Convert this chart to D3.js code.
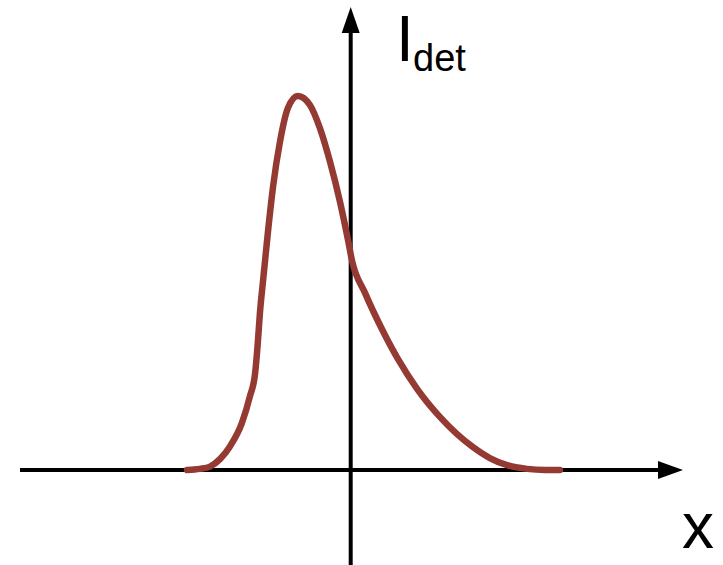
<!DOCTYPE html>
<html>
<head>
<meta charset="utf-8">
<script src="https://cdn.jsdelivr.net/npm/d3@7"></script>
<style>
  html, body { margin: 0; padding: 0; background: #fff; }
  svg { display: block; }
</style>
</head>
<body>
<svg id="chart" width="723" height="565"></svg>
<script>
// Detected intensity profile along x (arbitrary units, peak normalised to 1)
const xValues = [-4.09, -3.77, -3.52, -3.27, -3.02, -2.72, -2.52, -2.39, -2.33, -2.27,
                 -2.19, -2.07, -1.94, -1.77, -1.57, -1.32, -1.02, -0.77, -0.52, -0.27,
                 -0.06, 0.03, 0.36, 0.78, 1.18, 1.66, 2.23, 2.66, 3.06, 3.48,
                 3.91, 4.41, 4.86, 5.23];
const intensity = [0, 0.003, 0.009, 0.029, 0.063, 0.126, 0.197, 0.259, 0.330, 0.420,
                   0.508, 0.636, 0.759, 0.877, 0.968, 1.0, 0.976, 0.914, 0.825, 0.718,
                   0.611, 0.561, 0.473, 0.377, 0.297, 0.217, 0.142, 0.096, 0.061, 0.032,
                   0.013, 0.003, 0.0, 0.0];
const yLabel = "I";
const ySubscript = "det";
const xLabel = "x";

const svg = d3.select("#chart");

// Origin at (350.7, 470); 40 px per x unit, 374 px per intensity unit
const x = d3.scaleLinear().domain([-8.27, 8.31]).range([20, 683]);
const y = d3.scaleLinear().domain([0, 1]).range([470, 96]);

const x0 = x(0), y0 = y(0);

// Horizontal axis with arrow head
svg.append("line")
  .attr("x1", x(-8.27)).attr("x2", 662)
  .attr("y1", y0).attr("y2", y0)
  .attr("stroke", "#000").attr("stroke-width", 4);
svg.append("path")
  .attr("d", `M${x(8.31)},${y0} L658,${y0 - 9} L658,${y0 + 9} Z`)
  .attr("fill", "#000");

// Vertical axis with arrow head
svg.append("line")
  .attr("x1", x0).attr("x2", x0)
  .attr("y1", 565).attr("y2", 30)
  .attr("stroke", "#000").attr("stroke-width", 4);
svg.append("path")
  .attr("d", `M${x0},7 L${x0 - 9},33 L${x0 + 9},33 Z`)
  .attr("fill", "#000");

// Intensity curve
const pts = xValues.map((v, i) => [v, intensity[i]]);
const line = d3.line()
  .x(d => x(d[0]))
  .y(d => y(d[1]))
  .curve(d3.curveMonotoneX);

svg.append("path")
  .datum(pts)
  .attr("d", line)
  .attr("fill", "none")
  .attr("stroke", "#943a33")
  .attr("stroke-width", 6.5)
  .attr("stroke-linecap", "round")
  .attr("stroke-linejoin", "round");

// Axis labels
const font = "'Liberation Sans', Arial, Helvetica, sans-serif";
const yText = svg.append("text")
  .attr("x", 396).attr("y", 61)
  .attr("font-family", font)
  .attr("font-size", 64)
  .attr("fill", "#000")
  .text(yLabel);
yText.append("tspan")
  .attr("x", 413).attr("y", 71)
  .attr("font-size", 38)
  .text(ySubscript);

svg.append("text")
  .attr("x", 682).attr("y", 548)
  .attr("font-family", font)
  .attr("font-size", 64)
  .attr("fill", "#000")
  .text(xLabel);
</script>
</body>
</html>
